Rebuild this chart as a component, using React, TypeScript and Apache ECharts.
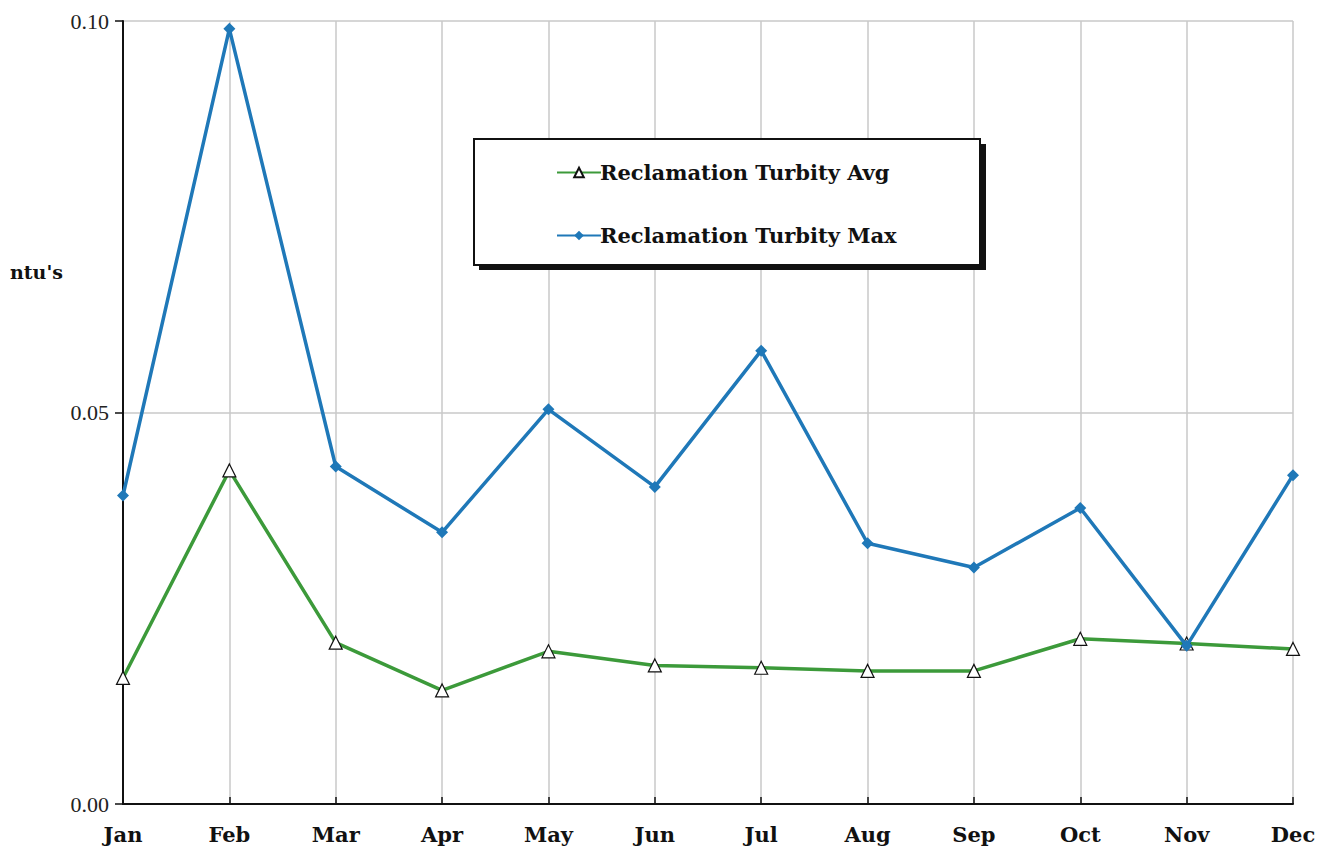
import React, { useEffect, useRef } from "react";
import * as echarts from "echarts";

const months = ["Jan", "Feb", "Mar", "Apr", "May", "Jun", "Jul", "Aug", "Sep", "Oct", "Nov", "Dec"];
const avgValues = [0.0161, 0.0426, 0.0206, 0.0145, 0.0195, 0.0177, 0.0174, 0.017, 0.017, 0.0211, 0.0205, 0.0198];
const maxValues = [0.0394, 0.099, 0.0431, 0.0347, 0.0504, 0.0405, 0.0579, 0.0333, 0.0302, 0.0378, 0.0202, 0.042];
const yTicks = [0, 0.05, 0.1];

const serif = "Liberation Serif";
const boldSerif = "DejaVu Serif";

export default function App() {
  const ref = useRef<HTMLDivElement>(null);
  useEffect(() => {
    const chart = echarts.init(ref.current!, null, { renderer: "svg" });
    chart.setOption({
      animation: false,
      backgroundColor: "#ffffff",
      grid: { left: 123, right: 30, top: 21, bottom: 50 },
      xAxis: {
        type: "category",
        data: months,
        boundaryGap: false,
        axisLine: { lineStyle: { color: "#111", width: 2 } },
        axisTick: { show: true, alignWithLabel: true, length: 7, inside: true, lineStyle: { color: "#111", width: 1.5 } },
        axisLabel: { color: "#111", fontFamily: boldSerif, fontWeight: "bold", fontSize: 21, margin: 20 },
        splitLine: { show: true, lineStyle: { color: "#c8c8c8", width: 1.5 } },
      },
      yAxis: {
        type: "value",
        min: 0,
        max: 0.1,
        interval: 0.05,
        axisLine: { show: true, lineStyle: { color: "#111", width: 2 } },
        axisTick: { show: true, length: 8, lineStyle: { color: "#111", width: 1.5 } },
        axisLabel: {
          color: "#222",
          fontFamily: serif,
          fontSize: 22,
          margin: 14,
          formatter: (v: number) => (yTicks.includes(Number(v.toFixed(2))) ? v.toFixed(2) : ""),
        },
        splitLine: { show: true, lineStyle: { color: "#c8c8c8", width: 1.5 } },
      },
      legend: {
        orient: "vertical",
        left: 551,
        top: 157,
        itemGap: 42,
        itemWidth: 44,
        itemHeight: 12,
        textStyle: { color: "#111", fontFamily: boldSerif, fontWeight: "bold", fontSize: 21, padding: [0, 0, 0, -6] },
        data: ["Reclamation Turbity Avg", "Reclamation Turbity Max"],
        z: 20,
      },
      graphic: [
        { type: "rect", z: 10, shape: { x: 479, y: 144, width: 507, height: 126 }, style: { fill: "#111" } },
        { type: "rect", z: 11, shape: { x: 474, y: 139, width: 506, height: 126 }, style: { fill: "#fff", stroke: "#111", lineWidth: 2 } },
        {
          type: "text",
          left: 10,
          top: 262,
          style: { text: "ntu's", fill: "#111", font: "bold 19px DejaVu Serif" },
        },
      ],
      series: [
        {
          name: "Reclamation Turbity Avg",
          type: "line",
          data: avgValues,
          color: "#3c9a3a",
          lineStyle: { color: "#3c9a3a", width: 3.5 },
          symbol: "triangle",
          symbolSize: 13,
          itemStyle: { color: "#ffffff", borderColor: "#111", borderWidth: 1.2 },
          z: 3,
        },
        {
          name: "Reclamation Turbity Max",
          type: "line",
          data: maxValues,
          color: "#1f78b8",
          lineStyle: { color: "#1f78b8", width: 3.5 },
          symbol: "diamond",
          symbolSize: 12,
          itemStyle: { color: "#1f78b8" },
          z: 4,
        },
      ],
    });
    return () => chart.dispose();
  }, []);
  return <div ref={ref} style={{ width: 1323, height: 854, position: "absolute", left: 0, top: 0 }} />;
}
